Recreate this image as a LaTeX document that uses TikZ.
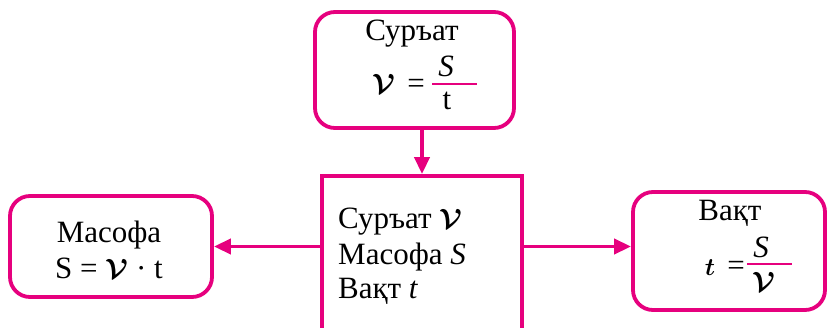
\documentclass[tikz,border=0pt]{standalone}
\usepackage{fontspec}
\setmainfont{Liberation Serif}
\usepackage{amsmath}
\usetikzlibrary{arrows.meta}
\definecolor{mag}{RGB}{230,0,126}
\newcommand{\vsym}{\scalebox{1.12}{\mbox{\boldmath$\mathcal{V}$}}}
\newcommand{\tbold}{\mbox{\boldmath$t$}}
\begin{document}
\begin{tikzpicture}[x=1pt,y=-1pt,
  box/.style={draw=mag, line width=3.8pt, rectangle, inner sep=0pt},
  rbox/.style={box, rounded corners=20pt},
  conn/.style={draw=mag, line width=3.8pt, -{Triangle[length=17pt,width=15pt]}},
  bar/.style={draw=mag, line width=1.6pt},
  txt/.style={font=\fontsize{31}{36}\selectfont, inner sep=0pt, anchor=base},
  ltxt/.style={txt, anchor=base west}]
\useasboundingbox (0,0) rectangle (827,327);
\clip (0,0) rectangle (827,327);
% boxes
\node[rbox, minimum width=199pt, minimum height=116pt] (top) at (414.5,70) {};
\node[box, minimum width=200pt, minimum height=184pt] (mid) at (422,268) {};
\node[rbox, minimum width=202pt, minimum height=101pt] (left) at (111,246.5) {};
\node[rbox, minimum width=192pt, minimum height=118pt] (right) at (729,251) {};
% connectors
\draw[conn] (mid.north |- top.south) -- (mid.north);
\draw[conn] (mid.west |- left.east) -- (left.east);
\draw[conn] (mid.east |- left.east) -- (right.west |- left.east);
% top box text
\node[txt] (t1) at (412,40) {Суръат};
\node[txt] (tv) at (384,93) {\vsym};
\node[txt] (teq) at (416,93) {=};
\coordinate (tb1) at (432,84);
\coordinate (tb2) at (477,84);
\draw[bar] (tb1) -- (tb2);
\node[txt] (tS) at (446,76) {\textit{S}};
\node[txt] (tt) at (447,109) {t};
% middle box text
\node[ltxt] (m1) at (338,228) {Суръат \vsym};
\node[ltxt] (m2) at (338,264) {Масофа \textit{S}};
\node[ltxt] (m3) at (338,298) {Вақт \textit{t}};
% left box text
\node[txt] (l1) at (109,242) {Масофа};
\node[txt] (l2) at (109,278) {S = \vsym\ · t};
% right box text
\node[txt] (r1) at (730,220) {Вақт};
\node[txt] (rt) at (710,275) {\tbold};
\node[txt] (req) at (736,275) {=};
\coordinate (rb1) at (747,264);
\coordinate (rb2) at (792,264);
\draw[bar] (rb1) -- (rb2);
\node[txt] (rS) at (761,257) {\textit{S}};
\node[txt] (rv) at (764,291) {\vsym};
\end{tikzpicture}
\end{document}
